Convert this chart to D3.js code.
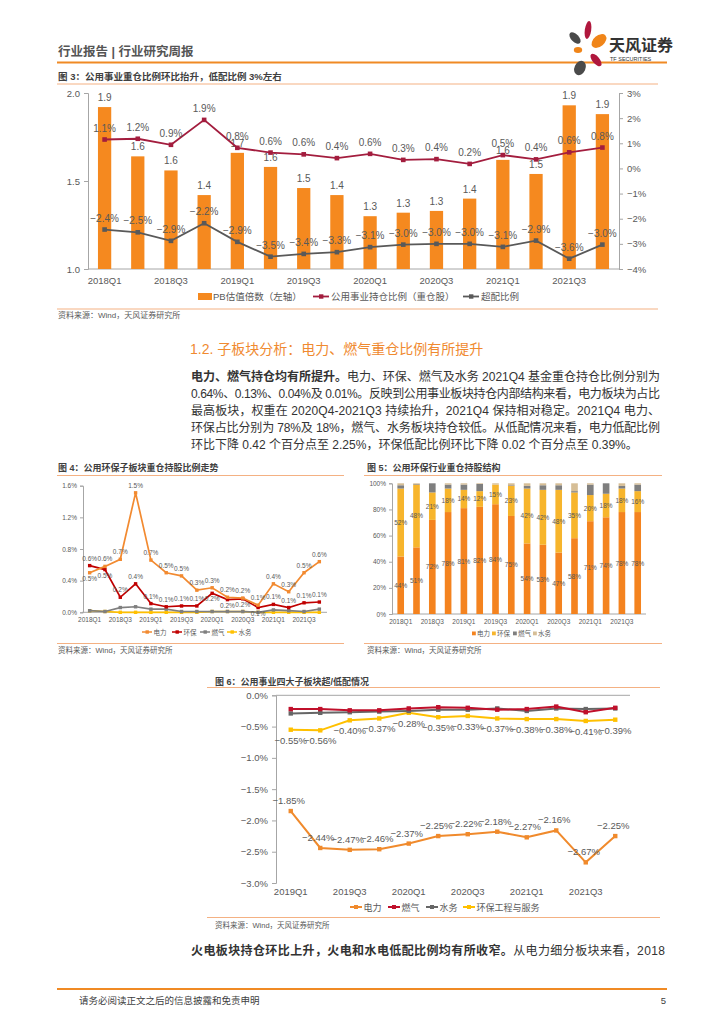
<!DOCTYPE html>
<html><head><meta charset="utf-8">
<script src="https://cdn.jsdelivr.net/npm/d3@7"></script>
<style>
body{margin:0;background:#fff}
text{font-family:"Liberation Sans","Noto Sans CJK SC",sans-serif}
</style>
</head><body>
<svg id="c" width="724" height="1024"></svg>
<script>
// ---------- DATA ----------
const quarters = ['2018Q1','2018Q2','2018Q3','2018Q4','2019Q1','2019Q2','2019Q3','2019Q4','2020Q1','2020Q2','2020Q3','2020Q4','2021Q1','2021Q2','2021Q3','2021Q4'];
const tickQuarters = ['2018Q1','2018Q3','2019Q1','2019Q3','2020Q1','2020Q3','2021Q1','2021Q3'];
// Fig 3
const pbValues = [1.92,1.64,1.56,1.42,1.66,1.58,1.46,1.42,1.30,1.32,1.33,1.40,1.62,1.54,1.93,1.88];
const holdRatio = [1.15,1.18,0.94,1.93,0.82,0.63,0.56,0.41,0.58,0.34,0.37,0.18,0.53,0.36,0.64,0.83];
const overRatio = [-2.43,-2.54,-2.88,-2.18,-2.92,-3.51,-3.40,-3.33,-3.13,-3.03,-3.0,-3.0,-3.12,-2.87,-3.59,-3.03];
const leftTicks3 = [1.0,1.5,2.0];
const rightTicks3 = [-4,-3,-2,-1,0,1,2,3];
// Fig 4
const power4 = [0.50,0.58,0.67,1.51,0.66,0.50,0.46,0.28,0.31,0.19,0.18,0.09,0.36,0.26,0.50,0.64];
const env4 = [0.59,0.54,0.19,0.36,0.11,0.07,0.08,0.08,0.24,0.16,0.17,0.06,0.10,0.06,0.12,0.13];
const gas4 = [0.02,0.01,0.06,0.07,0.04,0.04,0.01,0.01,0.01,0.01,0.01,0.00,0.03,0.02,0.01,0.04];
const water4 = [0.02,0.01,0.00,0.00,0.00,0.00,0.00,0.00,0.01,0.01,0.01,0.00,0.00,0.00,0.00,0.00];
const ticks4 = [0,0.4,0.8,1.2,1.6];
const power4Below = [0];
const env4Below = [1,8,9,10,11];
// Fig 5
const power5 = [44,51,72,78,81,82,84,75,54,53,47,58,71,74,78,78];
const env5 = [52,48,21,18,14,12,15,23,42,42,48,35,20,18,18,16];
const gas5 = [2.5,0.5,7,3,4,5.5,0,0.5,2,3.5,3.5,1,8,8,2,5];
const water5 = [1.5,0.5,0,1,1,0.5,1,1.5,2,1.5,1.5,6,1,0,2,1];
const ticks5 = [0,20,40,60,80,100];
// Fig 6
const quarters6 = ['2019Q1','2019Q2','2019Q3','2019Q4','2020Q1','2020Q2','2020Q3','2020Q4','2021Q1','2021Q2','2021Q3','2021Q4'];
const tickQuarters6 = ['2019Q1','2019Q3','2020Q1','2020Q3','2021Q1','2021Q3'];
const power6 = [-1.85,-2.44,-2.47,-2.46,-2.37,-2.25,-2.22,-2.18,-2.27,-2.16,-2.67,-2.25];
const gas6 = [-0.22,-0.22,-0.24,-0.24,-0.21,-0.19,-0.20,-0.23,-0.22,-0.18,-0.27,-0.20];
const water6 = [-0.29,-0.28,-0.27,-0.26,-0.25,-0.23,-0.23,-0.21,-0.25,-0.21,-0.22,-0.21];
const envEng6 = [-0.55,-0.56,-0.40,-0.37,-0.28,-0.35,-0.33,-0.37,-0.38,-0.38,-0.41,-0.39];
const ticks6 = [0,-0.5,-1.0,-1.5,-2.0,-2.5,-3.0];

// ---------- HELPERS ----------
const svg = d3.select('#c');
svg.append('rect').attr('width',724).attr('height',1024).attr('fill','#fff');
const GREY_T='#595959', AX='#A6A6A6';
const minus = s => s.replace('-', '\u2212');
function txt(g,x,y,s,o={}){
  const t=g.append('text').attr('x',x).attr('y',y).text(s)
   .attr('font-size',o.size||9).attr('fill',o.fill||GREY_T)
   .attr('text-anchor',o.anchor||'start');
  if(o.weight) t.attr('font-weight',o.weight);
  return t;
}
function hline(x1,x2,y,c,w){svg.append('line').attr('x1',x1).attr('x2',x2).attr('y1',y).attr('y2',y).attr('stroke',c).attr('stroke-width',w);}

// ---------- HEADER ----------
txt(svg,58,56,'行业报告 | 行业研究周报',{size:12.5,weight:'bold',fill:'#555'});
hline(57,667,62.5,'#F08A24',2);
const logo = svg.append('g');
[[588,30,3.2,9,8,'#B0173D'],[599,41,5.5,8.5,50,'#F08519'],[575,38,3.8,7,-45,'#4A4A4A'],
 [578,50,4.2,3,0,'#F08519'],[596,60,3.6,7.5,-40,'#B0173D'],[580,68,5.5,7.5,25,'#4A4A4A']]
 .forEach(p=>logo.append('ellipse').attr('cx',p[0]).attr('cy',p[1]).attr('rx',p[2]).attr('ry',p[3])
   .attr('transform',`rotate(${p[4]},${p[0]},${p[1]})`).attr('fill',p[5]));
txt(svg,609,51,'天风证券',{size:16,weight:'bold',fill:'#333'});
txt(svg,610,61,'TF SECURITIES',{size:5.5,fill:'#333'});

// ---------- FIG 3 ----------
txt(svg,58,80,'图 3：公用事业重仓比例环比抬升，低配比例 3%左右',{size:9.5,weight:'bold',fill:'#404040'});
hline(57,658,84,'#F4B183',1);
const g3=svg.append('g');
const x3=d3.scaleBand().domain(quarters).range([88,619]).paddingInner(0.6).paddingOuter(0.3);
const y3L=d3.scaleLinear().domain([1,2]).range([269,93]);
const y3R=d3.scaleLinear().domain([-4,3]).range([269,93]);
const axL=g3.append('g').attr('transform','translate(88,0)')
  .call(d3.axisLeft(y3L).tickValues(leftTicks3).tickFormat(d3.format('.1f')).tickSize(4).tickPadding(4));
const axR=g3.append('g').attr('transform','translate(619,0)')
  .call(d3.axisRight(y3R).tickValues(rightTicks3).tickFormat(d=>(d<0?'\u2212':'')+Math.abs(d)+'%').tickSize(4).tickPadding(4));
[axL,axR].forEach(a=>{a.selectAll('path,line').attr('stroke',AX);a.selectAll('text').attr('fill',GREY_T).attr('font-size',9.5).attr('font-family','Liberation Sans');});
g3.append('line').attr('x1',88).attr('x2',619).attr('y1',269).attr('y2',269).attr('stroke',AX);
tickQuarters.forEach(q=>txt(g3,x3(q)+x3.bandwidth()/2,284,q,{size:9.5,anchor:'middle'}));
g3.selectAll('rect.b').data(pbValues).join('rect')
  .attr('x',(d,i)=>x3(quarters[i])).attr('width',x3.bandwidth())
  .attr('y',d=>y3L(d)).attr('height',d=>269-y3L(d)).attr('fill','#F5891F');
pbValues.forEach((d,i)=>txt(g3,x3(quarters[i])+x3.bandwidth()/2,y3L(d)-6,d3.format('.1f')(d),{size:10,anchor:'middle'}));
function line3(data,color){
  const cx=(d,i)=>x3(quarters[i])+x3.bandwidth()/2;
  g3.append('path').datum(data).attr('fill','none').attr('stroke',color).attr('stroke-width',1.8)
    .attr('d',d3.line().x(cx).y(d=>y3R(d)));
  g3.selectAll(null).data(data).join('rect').attr('x',(d,i)=>cx(d,i)-2.3).attr('y',d=>y3R(d)-2.3)
    .attr('width',4.6).attr('height',4.6).attr('fill',color);
  data.forEach((d,i)=>txt(g3,cx(d,i),y3R(d)-8,d3.format('.1f')(d)+'%',{size:10,anchor:'middle'}));
}
line3(holdRatio,'#A31D3E');
line3(overRatio,'#595959');
g3.append('rect').attr('x',198).attr('y',293).attr('width',14).attr('height',7).attr('fill','#F5891F');
txt(g3,213,300,'PB估值倍数（左轴）',{size:9.5});
[[313,'#A31D3E','公用事业持仓比例（重仓股）'],[463,'#595959','超配比例']].forEach(l=>{
  g3.append('line').attr('x1',l[0]).attr('x2',l[0]+16).attr('y1',296.5).attr('y2',296.5).attr('stroke',l[1]).attr('stroke-width',1.8);
  g3.append('rect').attr('x',l[0]+6).attr('y',294.3).attr('width',4.4).attr('height',4.4).attr('fill',l[1]);
  txt(g3,l[0]+18,300,l[2],{size:9.5});
});
hline(57,658,309,'#F4B183',1);
txt(svg,58,318,'资料来源：Wind，天风证券研究所',{size:8,fill:'#595959'});

// ---------- TEXT SECTION ----------
txt(svg,190,354,'1.2. 子板块分析：电力、燃气重仓比例有所提升',{size:14,fill:'#F08A30'});
const paraLines=[
 [['电力、燃气持仓均有所提升。','bold'],['电力、环保、燃气及水务 2021Q4 基金重仓持仓比例分别为','normal']],
 [['0.64%、0.13%、0.04%及 0.01%。反映到公用事业板块持仓内部结构来看，电力板块为占比','normal']],
 [['最高板块，权重在 2020Q4-2021Q3 持续抬升，2021Q4 保持相对稳定。2021Q4 电力、','normal']],
 [['环保占比分别为 78%及 18%，燃气、水务板块持仓较低。从低配情况来看，电力低配比例','normal']],
 [['环比下降 0.42 个百分点至 2.25%，环保低配比例环比下降 0.02 个百分点至 0.39%。','normal']]
];
paraLines.forEach((ln,i)=>{
  const t=svg.append('text').attr('x',191).attr('y',381+i*16.9).attr('font-size',12).attr('fill','#333');
  ln.forEach(s=>t.append('tspan').text(s[0]).attr('font-weight',s[1]));
  if(i<4) t.attr('textLength',469).attr('lengthAdjust','spacing');
});

// ---------- FIG 4 ----------
txt(svg,58,471,'图 4：公用环保子板块重仓持股比例走势',{size:9,weight:'bold',fill:'#404040'});
hline(57,344,475.5,'#F4B183',1);
const g4=svg.append('g');
const x4=d3.scalePoint().domain(quarters).range([82,327]).padding(0.5);
const y4=d3.scaleLinear().domain([0,1.6]).range([612.3,485.7]);
const ax4=g4.append('g').attr('transform','translate(83,0)')
  .call(d3.axisLeft(y4).tickValues(ticks4).tickFormat(d=>d.toFixed(1)+'%').tickSize(3).tickPadding(3));
ax4.selectAll('path,line').attr('stroke',AX);
ax4.selectAll('text').attr('fill',GREY_T).attr('font-size',6.5).attr('font-family','Liberation Sans');
g4.append('line').attr('x1',82).attr('x2',327).attr('y1',612.3).attr('y2',612.3).attr('stroke',AX);
tickQuarters.forEach(q=>txt(g4,x4(q),621.5,q,{size:6.5,anchor:'middle'}));
function line4(data,color,labels,below){
  g4.append('path').datum(data).attr('fill','none').attr('stroke',color).attr('stroke-width',1.7)
    .attr('d',d3.line().x((d,i)=>x4(quarters[i])).y(d=>y4(d)));
  g4.selectAll(null).data(data).join('rect').attr('x',(d,i)=>x4(quarters[i])-1.7).attr('y',d=>y4(d)-1.7)
    .attr('width',3.4).attr('height',3.4).attr('fill',color);
  if(labels) data.forEach((d,i)=>txt(g4,x4(quarters[i]),below.includes(i)?y4(d)+8:y4(d)-5,d.toFixed(1)+'%',{size:6.5,anchor:'middle'}));
}
line4(water4,'#FFC000');
line4(gas4,'#7F7F7F');
line4(env4,'#C00000',true,env4Below);
line4(power4,'#F28A30',true,power4Below);
[[142,'#F28A30','电力'],[172,'#C00000','环保'],[200,'#7F7F7F','燃气'],[227,'#FFC000','水务']].forEach(l=>{
  g4.append('line').attr('x1',l[0]).attr('x2',l[0]+10).attr('y1',632).attr('y2',632).attr('stroke',l[1]).attr('stroke-width',1.5);
  g4.append('rect').attr('x',l[0]+3.5).attr('y',630.3).attr('width',3.4).attr('height',3.4).attr('fill',l[1]);
  txt(g4,l[0]+11.5,634.5,l[2],{size:6.5});
});
hline(57,344,643.5,'#F4B183',1);
txt(svg,58,653,'资料来源：Wind，天风证券研究所',{size:7.5,fill:'#595959'});

// ---------- FIG 5 ----------
txt(svg,367,471,'图 5：公用环保行业重仓持股结构',{size:9,weight:'bold',fill:'#404040'});
hline(364,662,475.5,'#F4B183',1);
const g5=svg.append('g');
const x5=d3.scaleBand().domain(quarters).range([392.8,645.6]).paddingInner(0.58).paddingOuter(0.29);
const y5=d3.scaleLinear().domain([0,100]).range([614,483.3]);
const ax5=g5.append('g').attr('transform','translate(392,0)')
  .call(d3.axisLeft(y5).tickValues(ticks5).tickFormat(d=>d+'%').tickSize(3).tickPadding(3));
ax5.selectAll('path,line').attr('stroke',AX);
ax5.selectAll('text').attr('fill',GREY_T).attr('font-size',6.5).attr('font-family','Liberation Sans');
g5.append('line').attr('x1',392).attr('x2',646).attr('y1',614).attr('y2',614).attr('stroke',AX);
tickQuarters.forEach(q=>txt(g5,x5(q)+x5.bandwidth()/2,623.5,q,{size:6.5,anchor:'middle'}));
const keys5=['电力','环保','燃气','水务'];
const cols5=['#F4831F','#F7B52C','#7F7F7F','#D6BE96'];
const rows5=quarters.map((q,i)=>({q,'电力':power5[i],'环保':env5[i],'燃气':gas5[i],'水务':water5[i]}));
const st5=d3.stack().keys(keys5)(rows5);
st5.forEach((s,k)=>{
  g5.selectAll(null).data(s).join('rect').attr('x',d=>x5(d.data.q)).attr('width',x5.bandwidth())
    .attr('y',d=>y5(d[1])).attr('height',d=>y5(d[0])-y5(d[1])).attr('fill',cols5[k]);
  if(k<2) s.forEach(d=>txt(g5,x5(d.data.q)+x5.bandwidth()/2,y5((d[0]+d[1])/2)+2.5,Math.round(d[1]-d[0])+'%',{size:6.5,anchor:'middle',fill:'#595959'}));
});
[[472,'电力'],[492,'环保'],[513,'燃气'],[533,'水务']].forEach((l,k)=>{
  g5.append('rect').attr('x',l[0]).attr('y',631.5).attr('width',3.8).attr('height',3.8).attr('fill',cols5[k]);
  txt(g5,l[0]+5,636,l[1],{size:6.5});
});
hline(364,662,643.5,'#F4B183',1);
txt(svg,367,653,'资料来源：Wind，天风证券研究所',{size:7.5,fill:'#595959'});

// ---------- FIG 6 ----------
txt(svg,215,684.5,'图 6：公用事业四大子板块超/低配情况',{size:9,weight:'bold',fill:'#404040'});
hline(207,660,687.5,'#F4B183',1);
const g6=svg.append('g');
const x6=d3.scalePoint().domain(quarters6).range([276,630]).padding(0.5);
const y6=d3.scaleLinear().domain([-3,0]).range([883,695.3]);
const ax6=g6.append('g').attr('transform','translate(276,0)')
  .call(d3.axisLeft(y6).tickValues(ticks6).tickFormat(d=>minus(d.toFixed(1))+'%').tickSize(4).tickPadding(4));
ax6.selectAll('path,line').attr('stroke',AX);
ax6.selectAll('text').attr('fill',GREY_T).attr('font-size',9.5).attr('font-family','Liberation Sans');
g6.append('line').attr('x1',276).attr('x2',630).attr('y1',695.3).attr('y2',695.3).attr('stroke',AX);
tickQuarters6.forEach(q=>txt(g6,x6(q),895,q,{size:9.5,anchor:'middle'}));
function line6(data,color,lab){
  g6.append('path').datum(data).attr('fill','none').attr('stroke',color).attr('stroke-width',2)
    .attr('d',d3.line().x((d,i)=>x6(quarters6[i])).y(d=>y6(d)));
  g6.selectAll(null).data(data).join('rect').attr('x',(d,i)=>x6(quarters6[i])-2.2).attr('y',d=>y6(d)-2.2)
    .attr('width',4.4).attr('height',4.4).attr('fill',color);
  if(lab) data.forEach((d,i)=>txt(g6,x6(quarters6[i])+(lab>0?0:-2),y6(d)+lab,minus(d.toFixed(2))+'%',{size:9.5,anchor:'middle'}));
}
line6(envEng6,'#FFC000',14);
line6(water6,'#666666');
line6(gas6,'#C0102B');
line6(power6,'#F08A2C',-7);
[[350,'#F08A2C','电力'],[388,'#C0102B','燃气'],[426,'#666666','水务'],[463,'#FFC000','环保工程与服务']].forEach(l=>{
  g6.append('line').attr('x1',l[0]).attr('x2',l[0]+12).attr('y1',907).attr('y2',907).attr('stroke',l[1]).attr('stroke-width',2);
  g6.append('rect').attr('x',l[0]+4).attr('y',905).attr('width',4).attr('height',4).attr('fill',l[1]);
  txt(g6,l[0]+13.5,910.5,l[2],{size:9});
});
hline(207,660,917.5,'#F4B183',1);
txt(svg,215,928,'资料来源：Wind，天风证券研究所',{size:7.5,fill:'#595959'});

// ---------- BOTTOM TEXT / FOOTER ----------
const bt=svg.append('text').attr('x',191).attr('y',955).attr('font-size',12).attr('fill','#333')
  .attr('textLength',474).attr('lengthAdjust','spacing');
bt.append('tspan').text('火电板块持仓环比上升，火电和水电低配比例均有所收窄。').attr('font-weight','bold');
bt.append('tspan').text('从电力细分板块来看，2018');
hline(57,667,989,'#F08A24',2);
txt(svg,79,1004,'请务必阅读正文之后的信息披露和免责申明',{size:9.5,fill:'#404040'});
txt(svg,666,1004,'5',{size:9.5,fill:'#404040',anchor:'end'});
</script>
</body></html>
